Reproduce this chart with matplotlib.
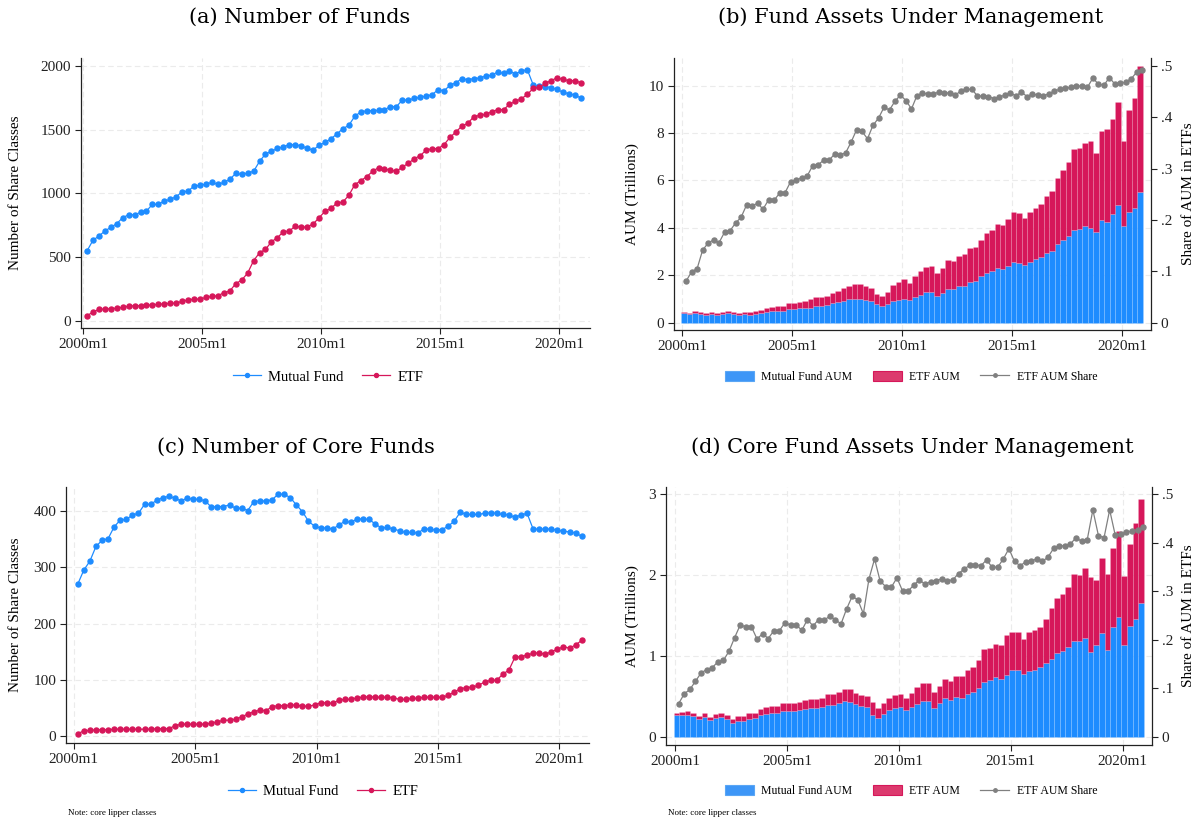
import matplotlib
matplotlib.use('Agg')
import matplotlib.pyplot as plt
from matplotlib.patches import Patch
import numpy as np
import pandas as pd

# quarterly observations, 2000Q1 - 2020Q4
quarters = pd.period_range('2000Q1', '2020Q4', freq='Q')

# (a) number of funds
mf_funds = [547, 631, 665, 704, 733, 762, 809, 832, 832, 851,
            861, 914, 914, 940, 953, 974, 1013, 1018, 1058, 1063,
            1073, 1086, 1071, 1086, 1110, 1157, 1149, 1160, 1173, 1251,
            1309, 1330, 1353, 1366, 1382, 1382, 1374, 1353, 1340, 1377,
            1400, 1429, 1466, 1508, 1534, 1605, 1639, 1649, 1649, 1652,
            1657, 1681, 1681, 1733, 1733, 1746, 1754, 1764, 1775, 1814,
            1806, 1848, 1869, 1901, 1893, 1901, 1906, 1921, 1927, 1953,
            1942, 1961, 1937, 1961, 1971, 1851, 1840, 1838, 1830, 1817,
            1793, 1783, 1772, 1749]
etf_funds = [39, 68, 89, 92, 94, 99, 105, 115, 118, 118,
             120, 126, 128, 134, 136, 139, 152, 165, 168, 170,
             183, 191, 196, 220, 233, 291, 319, 374, 471, 534,
             560, 620, 652, 699, 704, 743, 733, 738, 759, 809,
             859, 882, 924, 932, 984, 1068, 1099, 1131, 1173, 1202,
             1191, 1183, 1173, 1207, 1236, 1272, 1296, 1340, 1351, 1351,
             1382, 1440, 1482, 1529, 1550, 1602, 1613, 1620, 1641, 1657,
             1657, 1699, 1723, 1743, 1777, 1825, 1832, 1864, 1885, 1908,
             1895, 1885, 1885, 1869]

# (b) fund AUM (trillions) and ETF share
mf_aum = [0.39, 0.37, 0.41, 0.37, 0.34, 0.38, 0.34, 0.38, 0.39, 0.37,
          0.31, 0.35, 0.34, 0.38, 0.42, 0.46, 0.51, 0.51, 0.51, 0.58,
          0.58, 0.61, 0.61, 0.63, 0.70, 0.70, 0.75, 0.82, 0.86, 0.93,
          0.99, 1.01, 1.00, 0.94, 0.93, 0.80, 0.72, 0.79, 0.90, 0.96,
          1.01, 0.96, 1.08, 1.18, 1.28, 1.28, 1.14, 1.25, 1.44, 1.42,
          1.54, 1.56, 1.72, 1.76, 1.96, 2.10, 2.18, 2.30, 2.27, 2.39,
          2.58, 2.51, 2.45, 2.55, 2.68, 2.77, 2.96, 3.04, 3.32, 3.49,
          3.66, 3.93, 3.97, 4.07, 4.01, 3.83, 4.34, 4.25, 4.59, 4.96,
          4.07, 4.69, 4.85, 5.51]
etf_aum = [0.05, 0.05, 0.07, 0.07, 0.07, 0.07, 0.08, 0.08, 0.10, 0.08,
           0.08, 0.09, 0.10, 0.11, 0.10, 0.15, 0.15, 0.18, 0.19, 0.24,
           0.25, 0.25, 0.31, 0.36, 0.38, 0.38, 0.39, 0.45, 0.48, 0.52,
           0.57, 0.61, 0.63, 0.60, 0.52, 0.40, 0.42, 0.49, 0.71, 0.76,
           0.82, 0.70, 0.91, 1.00, 1.07, 1.11, 0.96, 1.07, 1.21, 1.19,
           1.28, 1.34, 1.45, 1.42, 1.53, 1.69, 1.72, 1.87, 1.86, 1.99,
           2.10, 2.11, 1.97, 2.13, 2.15, 2.24, 2.39, 2.52, 2.78, 2.96,
           3.14, 3.39, 3.40, 3.52, 3.67, 3.34, 3.74, 3.93, 4.02, 4.36,
           3.61, 4.30, 4.64, 5.34]
etf_share = [.081, .099, .105, .141, .155, .161, .156, .176, .179, .194,
             .205, .229, .228, .232, .221, .239, .238, .252, .253, .274,
             .277, .282, .285, .305, .307, .316, .316, .328, .327, .330,
             .351, .375, .372, .358, .384, .398, .419, .414, .431, .443,
             .432, .416, .442, .447, .445, .445, .449, .447, .447, .443,
             .451, .454, .454, .441, .441, .440, .436, .439, .443, .447,
             .441, .449, .440, .445, .443, .442, .445, .451, .454, .456,
             .458, .461, .460, .458, .476, .464, .462, .477, .464, .466,
             .468, .475, .488, .492]

# (c) number of core funds
core_mf_funds = [270, 295, 311, 337, 348, 351, 372, 384, 385, 393,
                 396, 412, 412, 419, 424, 426, 423, 418, 423, 421,
                 421, 418, 407, 408, 408, 411, 405, 405, 401, 417,
                 418, 418, 420, 430, 430, 424, 411, 399, 382, 373,
                 370, 370, 368, 375, 382, 380, 386, 386, 385, 377,
                 370, 371, 368, 365, 362, 362, 361, 368, 368, 366,
                 367, 373, 382, 398, 394, 394, 394, 396, 397, 396,
                 394, 393, 389, 393, 396, 368, 368, 368, 368, 366,
                 364, 363, 361, 355]
core_etf_funds = [4, 9, 10, 11, 11, 11, 12, 12, 12, 12,
                  12, 12, 12, 13, 13, 13, 18, 21, 21, 21,
                  21, 21, 23, 25, 28, 28, 30, 34, 39, 43,
                  46, 45, 52, 54, 54, 55, 55, 53, 53, 55,
                  59, 59, 58, 64, 65, 65, 68, 69, 70, 69,
                  69, 69, 68, 65, 65, 67, 67, 69, 69, 69,
                  69, 72, 78, 84, 86, 87, 90, 96, 99, 99,
                  110, 117, 140, 141, 144, 147, 148, 145, 150, 154,
                  159, 156, 162, 170]

# (d) core fund AUM (trillions) and ETF share
core_mf_aum = [.276, .272, .272, .260, .227, .247, .214, .239, .247, .223,
               .177, .194, .194, .227, .235, .272, .288, .293, .293, .321,
               .321, .326, .330, .342, .363, .354, .371, .391, .396, .416,
               .441, .433, .408, .379, .367, .268, .239, .284, .334, .354,
               .367, .338, .367, .412, .449, .445, .363, .420, .482, .461,
               .490, .486, .532, .552, .610, .684, .705, .742, .717, .762,
               .824, .832, .775, .820, .832, .861, .915, .968, 1.038, 1.067,
               1.108, 1.183, 1.183, 1.224, 1.047, 1.133, 1.290, 1.071, 1.360, 1.483,
               1.141, 1.368, 1.454, 1.660]
core_etf_aum = [.021, .037, .049, .037, .037, .050, .033, .049, .054, .045,
                .045, .061, .061, .074, .066, .078, .087, .090, .086, .103,
                .095, .098, .107, .119, .111, .116, .115, .136, .136, .144,
                .156, .160, .132, .144, .136, .165, .119, .136, .152, .165,
                .165, .140, .177, .206, .223, .227, .193, .215, .235, .231,
                .264, .268, .300, .309, .346, .404, .395, .412, .424, .499,
                .474, .466, .440, .474, .495, .503, .548, .631, .684, .705,
                .746, .832, .815, .865, .935, .812, .919, .948, .980, 1.063,
                .845, 1.022, 1.195, 1.286]
core_etf_share = [.069, .089, .098, .115, .132, .139, .143, .155, .158, .177,
                  .205, .231, .227, .227, .202, .213, .203, .219, .219, .236,
                  .230, .231, .220, .242, .229, .242, .241, .249, .242, .233,
                  .264, .290, .283, .254, .326, .367, .321, .310, .309, .328,
                  .301, .301, .313, .324, .315, .320, .322, .326, .322, .324,
                  .337, .346, .354, .355, .353, .365, .350, .350, .367, .388,
                  .362, .353, .361, .363, .367, .362, .371, .389, .394, .394,
                  .398, .411, .403, .407, .468, .415, .411, .468, .416, .418,
                  .422, .425, .427, .433]

tick_years = [2000, 2005, 2010, 2015, 2020]
tick_labels = [f'{y}m1' for y in tick_years]

BLUE = '#1E8CFF'
RED = '#D6175A'
GRAY = '#808080'
SERIF = 'Liberation Serif'
TITLE_FONT = 'DejaVu Serif'

# months since 2000m1, quarter-end month
x = (quarters.year - 2000) * 12 + quarters.quarter * 3 - 1
x = np.asarray(x, dtype=float)
xt = [(y - 2000) * 12 for y in tick_years]

W, H = 1200, 822
fig = plt.figure(figsize=(W / 100, H / 100), dpi=100)


def add_ax(l, t, r, b):
    return fig.add_axes([l / W, 1 - b / H, (r - l) / W, (b - t) / H])


def style(ax, xlim, ylim, yticks):
    ax.set_xlim(*xlim)
    ax.set_ylim(*ylim)
    ax.set_xticks(xt)
    ax.set_xticklabels(tick_labels)
    ax.set_yticks(yticks)
    for s in ['top', 'right']:
        ax.spines[s].set_visible(False)
    for s in ['left', 'bottom']:
        ax.spines[s].set_color('#222222')
        ax.spines[s].set_linewidth(0.9)
    ax.tick_params(direction='out', length=4, width=0.8, labelsize=11,
                   colors='#222222', pad=3)
    for lab in ax.get_xticklabels() + ax.get_yticklabels():
        lab.set_fontfamily(SERIF)
    ax.grid(True, color='#ebebeb', linestyle=(0, (5, 3)), linewidth=0.8)
    ax.set_axisbelow(True)


def line_panel(ax, mf, etf):
    l1, = ax.plot(x, mf, color=BLUE, marker='o', markersize=3.6, linewidth=0.9)
    l2, = ax.plot(x, etf, color=RED, marker='o', markersize=3.6, linewidth=0.9)
    return [l1, l2]


def bar_panel(ax, mf, etf, share, ylim2):
    ax.bar(x - 1.2, mf, width=3, color=BLUE, edgecolor=(1, 1, 1, 0.2),
           linewidth=0.4)
    ax.bar(x - 1.2, etf, width=3, bottom=mf, color=RED,
           edgecolor=(1, 1, 1, 0.2), linewidth=0.4)
    ax2 = ax.twinx()
    l3, = ax2.plot(x, share, color=GRAY, marker='o', markersize=3.6, linewidth=0.9)
    ax2.set_ylim(*ylim2)
    ax2.set_yticks([0, .1, .2, .3, .4, .5])
    ax2.set_yticklabels(['0', '.1', '.2', '.3', '.4', '.5'])
    for s in ['top', 'left', 'bottom']:
        ax2.spines[s].set_visible(False)
    ax2.spines['right'].set_color('#222222')
    ax2.spines['right'].set_linewidth(0.9)
    ax2.tick_params(direction='out', length=4, width=0.8, labelsize=11,
                    colors='#222222', pad=3)
    for lab in ax2.get_yticklabels():
        lab.set_fontfamily(SERIF)
    p1 = Patch(facecolor='#3D96F7', edgecolor='#5AA6F5', linewidth=0.8)
    p2 = Patch(facecolor='#DC3A6E', edgecolor=RED, linewidth=0.8)
    l3h, = ax2.plot([], [], color=GRAY, marker='o', markersize=2.5, linewidth=0.9)
    return [p1, p2, l3h]


# (a)
ax_a = add_ax(81, 58, 590, 328)
h = line_panel(ax_a, mf_funds, etf_funds)
style(ax_a, (-1, 255.6), (-57, 2063), [0, 500, 1000, 1500, 2000])
fig.text(300 / W, 1 - 17 / H, '(a) Number of Funds', ha='center', va='center',
         fontfamily=TITLE_FONT, fontsize=15)
fig.text(16 / W, 1 - 193 / H, 'Number of Share Classes', rotation=90,
         ha='center', va='center', fontfamily=SERIF, fontsize=11)
fig.legend(h, ['Mutual Fund', 'ETF'], loc='center',
           bbox_to_anchor=(328 / W, 1 - 377 / H), ncol=2, frameon=False,
           prop={'family': SERIF, 'size': 10.5}, handlelength=1.9,
           handletextpad=0.5, columnspacing=1.3, markerscale=0.8)

# (b)
ax_b = add_ax(674, 58, 1151, 330)
h = bar_panel(ax_b, mf_aum, etf_aum, etf_share, (-0.0142, 0.515))
style(ax_b, (-4.6, 255.7), (-0.31, 11.17), [0, 2, 4, 6, 8, 10])
fig.text(911 / W, 1 - 17 / H, '(b) Fund Assets Under Management', ha='center',
         va='center', fontfamily=TITLE_FONT, fontsize=15)
fig.text(632 / W, 1 - 194 / H, 'AUM (Trillions)', rotation=90,
         ha='center', va='center', fontfamily=SERIF, fontsize=11)
fig.text(1188 / W, 1 - 194 / H, 'Share of AUM in ETFs', rotation=90,
         ha='center', va='center', fontfamily=SERIF, fontsize=11)
fig.legend(h, ['Mutual Fund AUM', 'ETF AUM', 'ETF AUM Share'], loc='center',
           bbox_to_anchor=(911 / W, 1 - 377 / H), ncol=3, frameon=False,
           prop={'family': SERIF, 'size': 8.5}, handlelength=2.45,
           handleheight=1.0, handletextpad=0.65, columnspacing=1.7)

# (c)
ax_c = add_ax(66, 487, 589, 743)
h = line_panel(ax_c, core_mf_funds, core_etf_funds)
style(ax_c, (-3.8, 254.6), (-12.5, 442.8), [0, 100, 200, 300, 400])
fig.text(296 / W, 1 - 447 / H, '(c) Number of Core Funds', ha='center',
         va='center', fontfamily=TITLE_FONT, fontsize=15)
fig.text(16 / W, 1 - 615 / H, 'Number of Share Classes', rotation=90,
         ha='center', va='center', fontfamily=SERIF, fontsize=11)
fig.legend(h, ['Mutual Fund', 'ETF'], loc='center',
           bbox_to_anchor=(323 / W, 1 - 791 / H), ncol=2, frameon=False,
           prop={'family': SERIF, 'size': 10.5}, handlelength=1.9,
           handletextpad=0.5, columnspacing=1.3, markerscale=0.8)
fig.text(68 / W, 1 - 813 / H, 'Note: core lipper classes', ha='left',
         va='center', fontfamily=SERIF, fontsize=6.5)

# (d)
ax_d = add_ax(666, 487, 1152, 745)
h = bar_panel(ax_d, core_mf_aum, core_etf_aum, core_etf_share, (-0.0165, 0.5153))
style(ax_d, (-4.8, 255.7), (-0.1, 3.09), [0, 1, 2, 3])
fig.text(912 / W, 1 - 447 / H, '(d) Core Fund Assets Under Management',
         ha='center', va='center', fontfamily=TITLE_FONT, fontsize=15)
fig.text(632 / W, 1 - 616 / H, 'AUM (Trillions)', rotation=90,
         ha='center', va='center', fontfamily=SERIF, fontsize=11)
fig.text(1188 / W, 1 - 616 / H, 'Share of AUM in ETFs', rotation=90,
         ha='center', va='center', fontfamily=SERIF, fontsize=11)
fig.legend(h, ['Mutual Fund AUM', 'ETF AUM', 'ETF AUM Share'], loc='center',
           bbox_to_anchor=(911 / W, 1 - 791 / H), ncol=3, frameon=False,
           prop={'family': SERIF, 'size': 8.5}, handlelength=2.45,
           handleheight=1.0, handletextpad=0.65, columnspacing=1.7)
fig.text(668 / W, 1 - 813 / H, 'Note: core lipper classes', ha='left',
         va='center', fontfamily=SERIF, fontsize=6.5)

fig.savefig('out.png', dpi=100)
